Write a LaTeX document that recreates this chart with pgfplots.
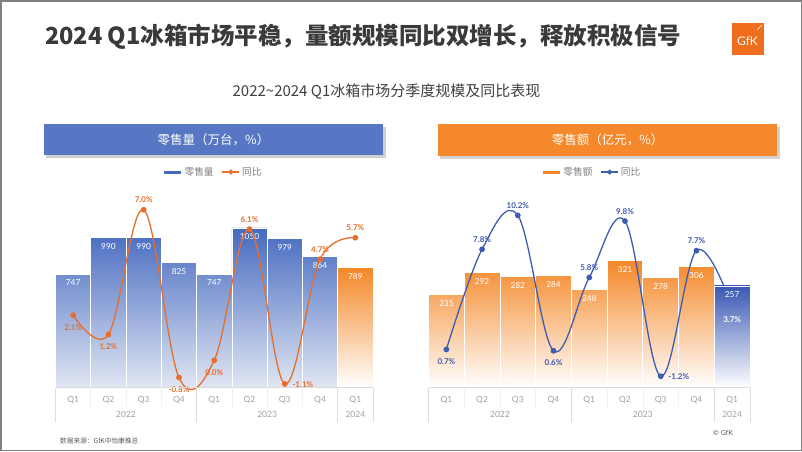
\documentclass[border=0pt]{standalone}
\usepackage{pgfplots}
\pgfplotsset{compat=1.18}
\usepackage{fontspec}
\setmainfont{Noto Sans CJK SC}
\newfontfamily\lato{Lato}
\definecolor{barblue}{RGB}{70,106,192}
\definecolor{barbluelight}{RGB}{224,230,243}
\definecolor{barorange}{RGB}{244,136,40}
\definecolor{lineorange}{RGB}{230,110,40}
\definecolor{lineblue}{RGB}{62,92,176}
\definecolor{deepblue}{RGB}{58,88,180}
\definecolor{hdrblue}{RGB}{87,118,195}
\definecolor{hdrorange}{RGB}{245,136,42}
\definecolor{txtgray}{RGB}{160,160,160}
\definecolor{leggray}{RGB}{128,128,128}
\definecolor{titlegray}{RGB}{58,58,58}
\definecolor{sepgray}{RGB}{220,220,220}
\definecolor{gfkorange}{RGB}{238,110,30}

\pgfplotsset{
  base/.style={scale only axis, height=197.5pt, xmin=-0.5, xmax=8.5,
    axis line style={draw=none}, tick style={draw=none}, ytick=\empty, xtick=\empty, clip=false},
  barlab/.style={draw=none, mark=none, forget plot, nodes near coords, point meta=explicit symbolic,
    every node near coord/.append style={font=\lato\fontsize{8.3}{8.3}\selectfont, text=white, anchor=center, yshift=-9pt, inner sep=0pt}},
  qlabels/.style={xtick={0,...,8}, xticklabels={Q1,Q2,Q3,Q4,Q1,Q2,Q3,Q4,Q1},
    xticklabel style={font=\lato\fontsize{8.5}{8.5}\selectfont, text=txtgray, anchor=base, yshift=-15pt}},
  lababove/.style={draw=none, mark=none, forget plot, nodes near coords, point meta=explicit symbolic,
    every node near coord/.append style={font=\lato\bfseries\fontsize{8}{8}\selectfont, text=#1, anchor=base, yshift=7pt, inner sep=0pt}},
  labbelow/.style={draw=none, mark=none, forget plot, nodes near coords, point meta=explicit symbolic,
    every node near coord/.append style={font=\lato\bfseries\fontsize{8}{8}\selectfont, text=#1, anchor=base, yshift=-15pt, inner sep=0pt}},
  labright/.style={draw=none, mark=none, forget plot, nodes near coords, point meta=explicit symbolic,
    every node near coord/.append style={font=\lato\bfseries\fontsize{8}{8}\selectfont, text=#1, anchor=base west, xshift=7.5pt, yshift=-3.5pt, inner sep=0pt}},
}

\begin{document}
\begin{tikzpicture}[x=1pt,y=1pt]
\useasboundingbox (0,0) rectangle (802,-451);
\fill[white] (0,0) rectangle (802,-451);

% title
\node[anchor=west, text=titlegray, font=\bfseries\fontsize{23.5}{23.5}\selectfont, inner sep=0pt] at (45,-37) {2024 Q1冰箱市场平稳，量额规模同比双增长，释放积极信号};
% logo
\fill[gfkorange] (732,-23) rectangle (764,-55);
\node[text=white, font=\lato\fontsize{12}{12}\selectfont, inner sep=0pt] at (747.5,-41) {GfK};
\draw[white, line width=0.6pt] (757,-30) -- (762,-25);
% subtitle
\node[text=black!75, font=\fontsize{15}{15}\selectfont, inner sep=0pt] at (386.5,-92) {2022\textasciitilde 2024 Q1冰箱市场分季度规模及同比表现};

% header boxes
\fill[black!18] (46,-126.5) rectangle (385.5,-157.5);
\fill[hdrblue] (44,-124) rectangle (383,-155);
\node[text=white, font=\fontsize{12.5}{12.5}\selectfont] at (213.5,-139.5) {零售量（万台，\%）};
\fill[black!18] (440,-126.5) rectangle (779.5,-158.5);
\fill[hdrorange] (438,-124) rectangle (777,-156);
\node[text=white, font=\fontsize{12.5}{12.5}\selectfont] at (607.5,-140) {零售额（亿元，\%）};

% ---------------- LEFT CHART ----------------
\begin{axis}[base, width=317.5pt, at={(55.5pt,-387.5pt)}, anchor=south west, ymin=0, ymax=1300, qlabels]
\addplot[ybar, bar width=35.28pt, bar shift=0pt, draw=white, line width=0.7pt,
  top color=barblue, middle color={rgb,255:red,150;green,172;blue,221}, bottom color=barbluelight, forget plot]
  coordinates {(0,747) (1,990) (2,990) (3,825) (4,747) (5,1050) (6,979) (7,864)};
\addplot[ybar, bar width=35.28pt, bar shift=0pt, draw=white, line width=0.7pt,
  top color=barorange, middle color=barorange!80!white, bottom color=white, forget plot]
  coordinates {(8,789)};
\addplot[barlab] coordinates {(0,747)[747] (1,990)[990] (2,990)[990] (3,825)[825] (4,747)[747] (5,1050)[1050] (6,979)[979] (7,864)[864] (8,789)[789]};
\end{axis}
\begin{axis}[base, width=317.5pt, at={(55.5pt,-387.5pt)}, anchor=south west, ymin=-1.265, ymax=7.92,
  legend columns=2,
  legend style={draw=none, fill=none, at={(0.496,1.091)}, anchor=center,
    font=\fontsize{9.7}{9.7}\selectfont, text=leggray,
    /tikz/every even column/.append style={column sep=6pt}}]
\addlegendimage{barblue, line width=3pt}
\addlegendentry{零售量}
\addlegendimage{lineorange, line width=1.3pt, mark=*, mark size=1.8pt}
\addlegendentry{同比}
\addplot[lineorange, line width=1.3pt, smooth, tension=0.6, mark=*, mark size=2.2pt, forget plot]
  coordinates {(0,2.1) (1,1.2) (2,7.0) (3,-0.8) (4,0.0) (5,6.1) (6,-1.1) (7,4.7) (8,5.7)};
\addplot[lababove=lineorange] coordinates {(2,7.0)[7.0\%] (5,6.1)[6.1\%] (7,4.7)[4.7\%] (8,5.7)[5.7\%]};
\addplot[labbelow=lineorange] coordinates {(0,2.1)[2.1\%] (1,1.2)[1.2\%] (3,-0.8)[-0.8\%] (4,0.0)[0.0\%]};
\addplot[labright=lineorange] coordinates {(6,-1.1)[-1.1\%]};
\end{axis}

% left category axis decorations
\draw[sepgray, line width=0.6pt] (55.5,-387.5) -- (373,-387.5);
\foreach \x in {55.5,196.61,337.72,373.0} \draw[sepgray, line width=0.6pt] (\x,-387.5) -- (\x,-422);
\foreach \x in {90.78,126.06,161.33,231.89,267.17,302.44} \draw[black!6, line width=0.6pt] (\x,-387.5) -- (\x,-407);
\node[text=txtgray, font=\lato\fontsize{8.5}{8.5}\selectfont, anchor=base] at (126.06,-417.5) {2022};
\node[text=txtgray, font=\lato\fontsize{8.5}{8.5}\selectfont, anchor=base] at (267.17,-417.5) {2023};
\node[text=txtgray, font=\lato\fontsize{8.5}{8.5}\selectfont, anchor=base] at (355.36,-417.5) {2024};

% ---------------- RIGHT CHART ----------------
\begin{axis}[base, width=321.5pt, at={(428.5pt,-387.5pt)}, anchor=south west, ymin=0, ymax=500, qlabels]
\addplot[ybar, bar width=35.72pt, bar shift=0pt, draw=white, line width=0.7pt,
  top color=barorange, middle color=barorange!62!white, bottom color=white, forget plot]
  coordinates {(0,235) (1,292) (2,282) (3,284) (4,248) (5,321) (6,278) (7,306)};
\addplot[barlab] coordinates {(0,235)[235] (1,292)[292] (2,282)[282] (3,284)[284] (4,248)[248] (5,321)[321] (6,278)[278] (7,306)[306]};
\end{axis}
\begin{axis}[base, width=321.5pt, at={(428.5pt,-387.5pt)}, anchor=south west, ymin=-2, ymax=12,
  legend columns=2,
  legend style={draw=none, fill=none, at={(0.508,1.091)}, anchor=center,
    font=\fontsize{9.7}{9.7}\selectfont, text=leggray,
    /tikz/every even column/.append style={column sep=6pt}}]
\addlegendimage{barorange, line width=3pt}
\addlegendentry{零售额}
\addlegendimage{lineblue, line width=1.3pt, mark=*, mark size=1.8pt}
\addlegendentry{同比}
\addplot[lineblue, line width=1.3pt, smooth, tension=0.6, mark=*, mark size=2.2pt, forget plot]
  coordinates {(0,0.7) (1,7.8) (2,10.2) (3,0.6) (4,5.8) (5,9.8) (6,-1.2) (7,7.7) (8,3.7)};
\addplot[lababove=lineblue] coordinates {(1,7.8)[7.8\%] (2,10.2)[10.2\%] (4,5.8)[5.8\%] (5,9.8)[9.8\%] (7,7.7)[7.7\%]};
\addplot[labbelow=lineblue] coordinates {(0,0.7)[0.7\%] (3,0.6)[0.6\%]};
\addplot[labright=lineblue] coordinates {(6,-1.2)[-1.2\%]};
\end{axis}
% 2024 Q1 bar drawn over the line, as in the reference
\begin{axis}[base, width=321.5pt, at={(428.5pt,-387.5pt)}, anchor=south west, ymin=0, ymax=500]
\addplot[ybar, bar width=35.72pt, bar shift=0pt, draw=white, line width=0.7pt,
  top color=deepblue, middle color=deepblue!70!white, bottom color=white, forget plot]
  coordinates {(8,257)};
\addplot[barlab] coordinates {(8,257)[257]};
\end{axis}
\begin{axis}[base, width=321.5pt, at={(428.5pt,-387.5pt)}, anchor=south west, ymin=-2, ymax=12]
\addplot[labbelow=white] coordinates {(8,3.7)[3.7\%]};
\end{axis}

% right category axis decorations
\draw[sepgray, line width=0.6pt] (428.5,-387.5) -- (750,-387.5);
\foreach \x in {428.5,571.39,714.28,750} \draw[sepgray, line width=0.6pt] (\x,-387.5) -- (\x,-422);
\foreach \x in {464.22,499.94,535.67,607.11,642.83,678.56} \draw[black!6, line width=0.6pt] (\x,-387.5) -- (\x,-407);
\node[text=txtgray, font=\lato\fontsize{8.5}{8.5}\selectfont, anchor=base] at (499.94,-417.5) {2022};
\node[text=txtgray, font=\lato\fontsize{8.5}{8.5}\selectfont, anchor=base] at (642.83,-417.5) {2023};
\node[text=txtgray, font=\lato\fontsize{8.5}{8.5}\selectfont, anchor=base] at (732.14,-417.5) {2024};

% footer
\node[anchor=west, text=black!65, font=\fontsize{6.7}{6.7}\selectfont, inner sep=0pt] at (60,-441) {数据来源：GfK中怡康推总};
\node[anchor=west, text=black!65, font=\lato\fontsize{7}{7}\selectfont, inner sep=0pt] at (713,-433) {© GfK};

% frame
\draw[black!50, line width=1.5pt] (0.75,-0.75) rectangle (801.25,-450.25);
\end{tikzpicture}
\end{document}
